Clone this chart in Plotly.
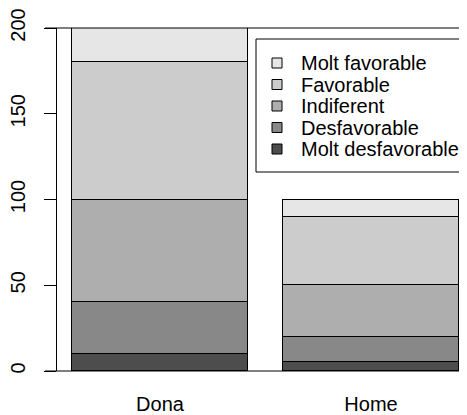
import plotly.graph_objects as go

groups = ["Dona", "Home"]
categories = ["Molt desfavorable", "Desfavorable", "Indiferent", "Favorable", "Molt favorable"]
values = {
    "Molt desfavorable": [10, 5],
    "Desfavorable": [30, 15],
    "Indiferent": [60, 30],
    "Favorable": [80, 40],
    "Molt favorable": [20, 10],
}
colors = ["#4D4D4D", "#888888", "#AEAEAE", "#CCCCCC", "#E6E6E6"]
yticks = [0, 50, 100, 150, 200]

# page coordinates (the page body has an 8px margin)
OFF = 8
PAGE_W, PAGE_H = 467, 415
W, H = PAGE_W - OFF, PAGE_H - OFF
PL, PT, PB, PR = 57, 28, 371, 467   # plot area in page pixels
L, T = PL - OFF, PT - OFF
B = H - (PB - OFF)
R = W - (PR - OFF)
PW, PH = PR - PL, PB - PT
FONT = "Liberation Sans, Arial, Helvetica, sans-serif"
FS = 20

def px_x(px):
    return (px - PL) / PW

def px_y(py):
    return 1 - (py - PT) / PH

fig = go.Figure()
xpos = [0, 1]
for cat, col in zip(categories, colors):
    fig.add_trace(go.Bar(
        x=xpos, y=values[cat], name=cat, width=0.834,
        marker=dict(color=col, line=dict(color="black", width=1)),
        showlegend=False,
    ))

# 211 px between group centers, Dona center at page x 160
span = 211.0
x0 = -(160 - PL) / span
x1 = x0 + PW / span

shapes = [
    dict(type="line", xref="paper", yref="paper", x0=px_x(45), x1=1, y0=0, y1=0,
         line=dict(color="black", width=1)),
    dict(type="line", xref="paper", yref="paper", x0=px_x(45), x1=1, y0=1, y1=1,
         line=dict(color="black", width=1)),
    dict(type="rect", xref="paper", yref="paper", x0=px_x(256), x1=px_x(462),
         y0=px_y(172), y1=px_y(39), line=dict(color="black", width=1),
         fillcolor="white"),
]
annotations = []
legend_y = [63, 84.5, 106, 127.5, 149]
for i, (cat, col) in enumerate(zip(categories[::-1], colors[::-1])):
    yc = legend_y[i]
    shapes.append(dict(type="rect", xref="paper", yref="paper",
                       x0=px_x(272), x1=px_x(282), y0=px_y(yc + 5), y1=px_y(yc - 5),
                       line=dict(color="black", width=1), fillcolor=col))
    annotations.append(dict(xref="paper", yref="paper", x=px_x(299), y=px_y(yc),
                            text=cat, showarrow=False, xanchor="left", yanchor="middle",
                            font=dict(family=FONT, size=FS, color="black")))

fig.update_layout(
    width=W, height=H,
    margin=dict(l=L, r=R, t=T, b=B, pad=0, autoexpand=False),
    paper_bgcolor="white", plot_bgcolor="white",
    barmode="stack", bargap=0,
    showlegend=False,
    font=dict(family=FONT, size=FS, color="black"),
    shapes=shapes, annotations=annotations,
    xaxis=dict(range=[x0, x1], tickvals=xpos, ticktext=groups, ticks="",
               showline=False, showgrid=False, zeroline=False, automargin=False,
               ticklabelstandoff=19, tickfont=dict(size=FS)),
    yaxis=dict(range=[0, 200], tickvals=yticks, ticks="outside", ticklen=12,
               tickcolor="black", showline=True, linecolor="black", linewidth=1,
               showgrid=False, zeroline=False, tickangle=-90, automargin=False,
               ticklabelstandoff=11, tickfont=dict(size=FS)),
)
fig.write_html("out.html")
